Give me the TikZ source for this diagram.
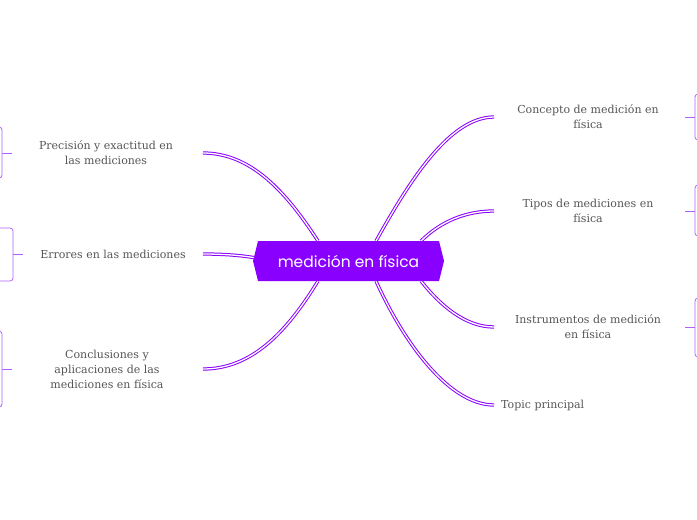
\documentclass[tikz,border=0pt]{standalone}
\usepackage{fontspec}
\setmainfont{DejaVu Serif}
\newfontfamily\popp{Poppins}
\definecolor{pur}{HTML}{8A00FF}
\definecolor{lpur}{HTML}{B060FF}
\definecolor{txt}{HTML}{555555}
\begin{document}
\begin{tikzpicture}[x=1pt,y=-1pt,
  conn/.style={draw=pur,line width=1pt,double=white,double distance=1.3pt},
  lab/.style={text=txt,font=\fontsize{11}{15}\selectfont,align=center,inner sep=1pt},
  brk/.style={draw=lpur,line width=0.8pt,rounded corners=3pt}]
\useasboundingbox (0,0) rectangle (697,520);
\coordinate (pe) at (203,153); \coordinate (ee) at (203,254); \coordinate (ke) at (203,369);
\coordinate (ce) at (494,117); \coordinate (te) at (494,211); \coordinate (ie) at (494,327); \coordinate (tpe) at (494,405);
\draw[conn] (318,241) .. controls (285,190) and (250,153) .. (pe);
\draw[conn] (256,258) .. controls (240,255) and (220,254) .. (ee);
\draw[conn] (318,281) .. controls (285,335) and (250,369) .. (ke);
\draw[conn] (376,241) .. controls (410,180) and (450,117) .. (ce);
\draw[conn] (421,241) .. controls (440,222) and (465,211) .. (te);
\draw[conn] (421,281) .. controls (440,305) and (465,327) .. (ie);
\draw[conn] (376,281) .. controls (405,345) and (450,405) .. (tpe);
\fill[pur] (253,261) -- (258,241) -- (439,241) -- (444,261) -- (439,281) -- (258,281) -- cycle;
\node[text=white,font=\popp\fontsize{15.5}{18}\selectfont,inner sep=0pt] (c) at (348.5,261) {medición en física};
% labels
\node[lab] (p) at (106,153) {Precisión y exactitud en\\las mediciones};
\node[lab] (e) at (113,254) {Errores en las mediciones};
\node[lab] (k) at (107,369) {Conclusiones y\\aplicaciones de las\\mediciones en física};
\node[lab] (cc) at (588,117) {Concepto de medición en\\física};
\node[lab] (t) at (588,211) {Tipos de mediciones en\\física};
\node[lab] (i) at (588,327) {Instrumentos de medición\\en física};
\node[lab,anchor=west] (tp) at (500,405) {Topic principal};
% brackets
\draw[brk] (-3,127) -- (2,127) -- (2,178) -- (-3,178); \draw[lpur,line width=0.8pt] (2,153) -- (12,153);
\draw[brk] (-3,228) -- (13,228) -- (13,281) -- (-3,281); \draw[lpur,line width=0.8pt] (13,254) -- (23,254);
\draw[brk] (-3,331) -- (2,331) -- (2,407) -- (-3,407); \draw[lpur,line width=0.8pt] (2,369) -- (12,369);
\draw[brk] (700,94) -- (695,94) -- (695,140) -- (700,140); \draw[lpur,line width=0.8pt] (685,117) -- (695,117);
\draw[brk] (700,185) -- (695,185) -- (695,236) -- (700,236); \draw[lpur,line width=0.8pt] (685,211) -- (695,211);
\draw[brk] (700,298) -- (695,298) -- (695,357) -- (700,357); \draw[lpur,line width=0.8pt] (685,327) -- (695,327);
\end{tikzpicture}
\end{document}
